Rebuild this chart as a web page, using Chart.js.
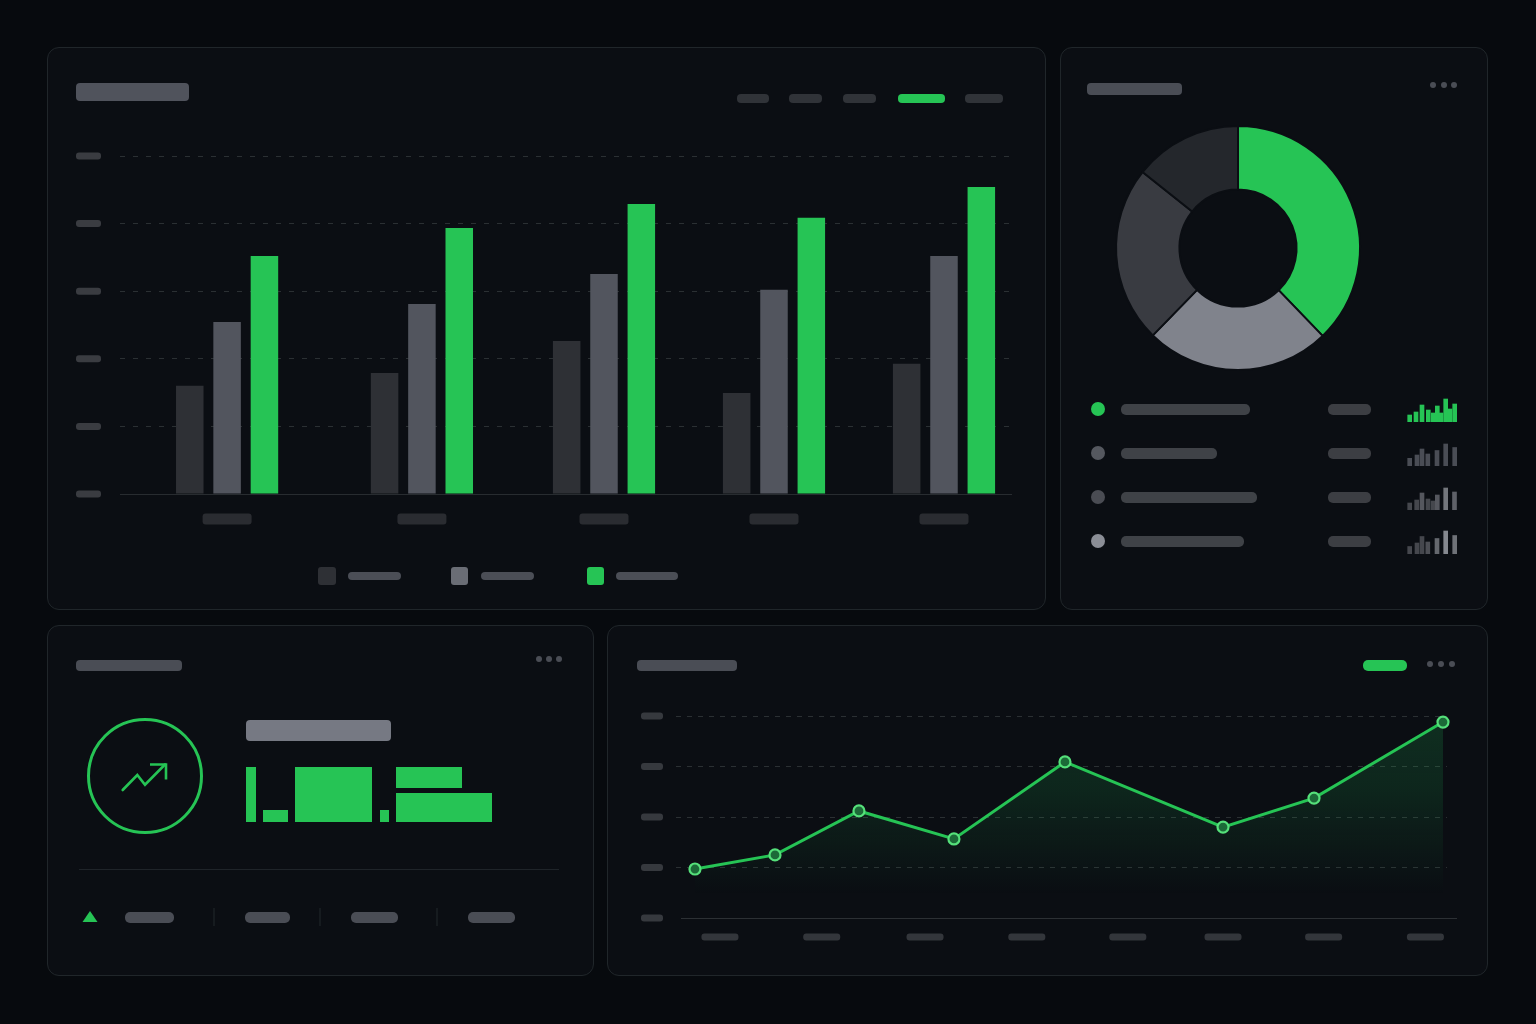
<!DOCTYPE html>
<html lang="en"><head><meta charset="utf-8"><title>Dashboard</title>
<script src="https://cdn.jsdelivr.net/npm/chart.js@4/dist/chart.umd.min.js"></script>
<style>
html,body{margin:0;padding:0;width:1536px;height:1024px;overflow:hidden;background:#070a0e}
.card{position:absolute;box-sizing:border-box;background:#0b0e13;border:1px solid #20262a;border-radius:12px}
.p{position:absolute;border-radius:4px}
canvas{position:absolute;display:block}
svg{position:absolute;left:0;top:0}
</style></head><body>
<div class="card" style="left:47px;top:47px;width:999px;height:563px"></div>
<div class="card" style="left:1060px;top:47px;width:428px;height:563px"></div>
<div class="card" style="left:47px;top:625px;width:547px;height:351px"></div>
<div class="card" style="left:607px;top:625px;width:881px;height:351px"></div>

<canvas id="mainChart" width="999" height="563" style="left:47px;top:47px"></canvas>
<canvas id="donut" width="428" height="340" style="left:1060px;top:47px"></canvas>
<canvas id="spark0" width="54" height="26" style="left:1405px;top:396px"></canvas>
<canvas id="spark1" width="54" height="26" style="left:1405px;top:440px"></canvas>
<canvas id="spark2" width="54" height="26" style="left:1405px;top:484px"></canvas>
<canvas id="spark3" width="54" height="26" style="left:1405px;top:528px"></canvas>
<canvas id="lineChart" width="881" height="351" style="left:607px;top:625px"></canvas>

<div id="deco"></div>
<svg width="1536" height="1024" fill="none">
  <circle cx="145" cy="776" r="56.5" stroke="#26c455" stroke-width="3"/>
  <polyline points="122.7,790 137.3,775 145,784.7 165,764.5" stroke="#26c455" stroke-width="2.6" stroke-linecap="round" stroke-linejoin="miter"/>
  <polyline points="150,764.5 166,764.5 166,779.5" stroke="#26c455" stroke-width="2.6"/>
  <polygon points="90,911 97.5,922 82.5,922" fill="#26c455"/>
  <line x1="79" y1="869.5" x2="559" y2="869.5" stroke="#1f2429"/>
  <line x1="214" y1="908" x2="214" y2="926" stroke="#23282d"/>
  <line x1="320" y1="908" x2="320" y2="926" stroke="#23282d"/>
  <line x1="437" y1="908" x2="437" y2="926" stroke="#23282d"/>
</svg>

<script>
// ---------- data ----------
const GREEN = '#26c455';
const mainPeriods = [0.63, 1.776, 2.847, 3.847, 4.847];
const mainSeriesA = [32, 35.8, 45.3, 29.9, 38.5];
const mainSeriesB = [50.9, 56.2, 65.1, 60.4, 70.4];
const mainSeriesC = [70.4, 78.7, 85.8, 81.7, 90.8];

const donutValues = [37.8, 24.5, 23.4, 14.3];
const donutColors = [GREEN, '#80838c', '#393b41', '#24272c'];

const sparkX0 = [4.7, 11, 17, 23.3, 28.3, 32.3, 36, 40.7, 45, 49.7];
const sparkY0 = [7, 10, 17, 12, 9, 16, 9, 23, 13, 18];
const sparkX1 = [4.7, 12, 17, 22.8, 32, 40.7, 49.7];
const sparkY1 = [7.7, 11, 17, 12, 15.5, 22, 18.5];
const sparkX2 = [4.7, 11.7, 17, 23, 28, 32.3, 40.7, 49.5];
const sparkY2 = [7, 10, 17, 11, 9, 15, 22, 18];
const sparkX3 = [4.7, 12, 17, 22.8, 32, 40.7, 49.7];
const sparkY3 = [7.5, 11, 17.5, 12, 15.5, 23, 18.5];

const lineX = [2.46, 12.84, 23.73, 36.05, 50.45, 70.95, 82.75, 99.48];
const lineY = [19.4, 25, 42.4, 31.3, 61.8, 36, 47.5, 77.6];
const lineTickX = [5.7, 18.9, 32.3, 45.5, 58.6, 70.95, 84, 97.2];

// ---------- placeholder pills outside the plots ----------
const deco = document.getElementById('deco');
function pill(x0, x1, y0, y1, c, r) {
  const d = document.createElement('div');
  d.className = 'p';
  d.style.cssText = `left:${x0}px;top:${y0}px;width:${x1-x0}px;height:${y1-y0}px;background:${c};border-radius:${r===undefined?4:r}px`;
  deco.appendChild(d);
}
function dots(x, y, c) { x.forEach(v => pill(v-3, v+3, y-3, y+3, c, 3)); }
const S = '#303338', L = '#4b4e56';
// main panel header
pill(76,189,83,101,'#50535c',4);
pill(737,769,94,103,S,4); pill(789,822,94,103,S,4); pill(843,876,94,103,S,4);
pill(898,945,94,103,GREEN,4); pill(965,1003,94,103,S,4);
// main legend
pill(318,336,567,585,'#2e3035',3); pill(348,401,572,580,L,4);
pill(451,468,567,585,'#6a6d75',3); pill(481,534,572,580,L,4);
pill(587,604,567,585,GREEN,3); pill(616,678,572,580,L,4);
// right panel
pill(1087,1182,83,95,'#4a4d55',4); dots([1433,1444,1454],85,'#4a4d55');
const rows = [[409,GREEN,1250],[453,'#55585f',1217],[497,'#4a4c53',1257],[541,'#8b8e96',1244]];
rows.forEach(r => {
  pill(1091,1105,r[0]-7,r[0]+7,r[1],7);
  pill(1121,r[2],r[0]-5.5,r[0]+5.5,'#3f4247',5);
  pill(1328,1371,r[0]-5.5,r[0]+5.5,'#3c3e43',5);
});
// KPI panel
pill(76,182,660,671,'#4a4d55',4); dots([539,549,559],659,'#4a4d55');
pill(246,391,720,741,'#767983',4);
pill(246,256,767,822,GREEN,0); pill(263,288,810,822,GREEN,0); pill(295,372,767,822,GREEN,0);
pill(380,389,810,822,GREEN,0); pill(396,462,767,788,GREEN,0); pill(396,492,793,822,GREEN,0);
pill(125,174,912,923,'#4a4d55',5); pill(245,290,912,923,'#4a4d55',5);
pill(351,398,912,923,'#4a4d55',5); pill(468,515,912,923,'#4a4d55',5);
// line panel
pill(637,737,660,671,'#4a4d55',4); pill(1363,1407,660,671,GREEN,5);
dots([1430,1441,1452],664,'#4a4d55');

// ---------- chart plugin: placeholder tick pills tied to each scale ----------
const pillTicks = {
  id:'pillTicks',
  afterDraw(chart, args, o) {
    const ctx = chart.ctx;
    const rr = (x,y,w,h,c) => { ctx.fillStyle=c; ctx.beginPath(); ctx.roundRect(x,y,w,h,Math.min(3,h/2)); ctx.fill(); };
    if (o.base) {
      const yb = chart.scales.y.getPixelForValue(0);
      ctx.fillStyle=o.base.c; ctx.fillRect(o.base.x0,Math.round(yb),o.base.x1-o.base.x0,1);
    }
    chart.scales.y.ticks.forEach(t => {
      const y = chart.scales.y.getPixelForValue(t.value);
      rr(o.yx, y-o.yh/2, o.yw, o.yh, o.yc);
    });
    chart.scales.x.ticks.forEach(t => {
      const x = chart.scales.x.getPixelForValue(t.value);
      rr(x-o.xw/2, o.xy-o.xh/2, o.xw, o.xh, o.xc);
    });
  }
};
Chart.register(pillTicks);
Chart.defaults.animation = false;
Chart.defaults.responsive = false;
Chart.defaults.plugins.legend.display = false;
Chart.defaults.plugins.tooltip.enabled = false;

const hiddenLabels = {display:false};
const gridY = () => ({
  color: c => c.tick.value === 0 ? 'rgba(0,0,0,0)' : '#2b3033',
  drawTicks:false, lineWidth:1
});

// ---------- main grouped bars ----------
function pts(xs, ys){ return xs.map((x,i)=>({x, y:ys[i]})); }
new Chart(document.getElementById('mainChart'), {
  type:'bar',
  data:{datasets:[
    {data:pts(mainPeriods,mainSeriesA), backgroundColor:'#2e3035'},
    {data:pts(mainPeriods,mainSeriesB), backgroundColor:'#52555e'},
    {data:pts(mainPeriods,mainSeriesC), backgroundColor:GREEN}
  ]},
  options:{
    layout:{padding:{left:73,right:34,top:109,bottom:116}},
    categoryPercentage:112/170, barPercentage:0.737,
    scales:{
      x:{type:'linear',offset:false,min:0,max:5.247,grid:{display:false,drawTicks:false},border:{display:false},ticks:hiddenLabels,
         afterBuildTicks:s=>{s.ticks=mainPeriods.map(v=>({value:v}));}},
      y:{min:0,max:100,ticks:{display:false,stepSize:20},border:{display:false,dash:[5,8]},grid:gridY()}
    },
    plugins:{pillTicks:{yx:29,yw:25,yh:7,yc:'#3a3c41',xy:472,xw:49,xh:11,xc:'#2a2c31',
      base:{x0:73,x1:965,c:'#282c30'}}}
  }
});

// ---------- doughnut ----------
new Chart(document.getElementById('donut'), {
  type:'doughnut',
  data:{labels:donutValues.map((v,i)=>'S'+(i+1)),datasets:[{data:donutValues,backgroundColor:donutColors,borderColor:'#0b0e13',borderWidth:2}]},
  options:{cutout:'48%',layout:{padding:{left:55,top:78,right:127,bottom:16}},
    plugins:{pillTicks:false}}
});

// ---------- sparklines ----------
const sparkColors = [
  sparkY0.map(()=>GREEN),
  sparkY1.map(()=>'#4a4d55'),
  ['#45474d','#45474d','#55575e','#45474d','#45474d','#55575e','#73767c','#5f6168'],
  ['#45474d','#45474d','#45474d','#4d4f55','#65686e','#85888f','#6f7278']
];
[[sparkX0,sparkY0],[sparkX1,sparkY1],[sparkX2,sparkY2],[sparkX3,sparkY3]].forEach((r,i)=>{
  new Chart(document.getElementById('spark'+i), {
    type:'bar',
    data:{datasets:[{data:pts(r[0],r[1]),backgroundColor:sparkColors[i],barThickness:4}]},
    options:{layout:{padding:0},
      scales:{x:{type:'linear',offset:false,min:0,max:54,display:false},y:{min:0,max:26,display:false}},
      plugins:{pillTicks:false}}
  });
});

// ---------- line + area ----------
new Chart(document.getElementById('lineChart'), {
  type:'line',
  data:{datasets:[{
    data:pts(lineX,lineY),
    borderColor:GREEN,borderWidth:3,tension:0,
    pointRadius:5.5,pointBorderWidth:2.2,pointBorderColor:'#55e07a',pointBackgroundColor:'#1c6a38',
    fill:'start',clip:false,
    backgroundColor:c=>{
      const g=c.chart.ctx.createLinearGradient(0,97,0,270);
      g.addColorStop(0,'rgba(34,197,94,0.18)');
      g.addColorStop(0.4,'rgba(34,197,94,0.13)');
      g.addColorStop(0.75,'rgba(34,197,94,0.05)');
      g.addColorStop(1,'rgba(34,197,94,0)');
      return g;
    }
  }]},
  options:{
    layout:{padding:{left:69,right:41,top:91,bottom:58}},
    scales:{
      x:{type:'linear',min:0,max:100,grid:{display:false,drawTicks:false},border:{display:false},ticks:hiddenLabels,
         afterBuildTicks:s=>{s.ticks=lineTickX.map(v=>({value:v}));}},
      y:{min:0,max:80,ticks:{display:false,stepSize:20},border:{display:false,dash:[5,6]},grid:gridY()}
    },
    plugins:{pillTicks:{yx:34,yw:22,yh:7,yc:'#36393e',xy:312,xw:37,xh:7,xc:'#33363b',
      base:{x0:74,x1:850,c:'#2c3034'}}}
  }
});
</script>
</body></html>
